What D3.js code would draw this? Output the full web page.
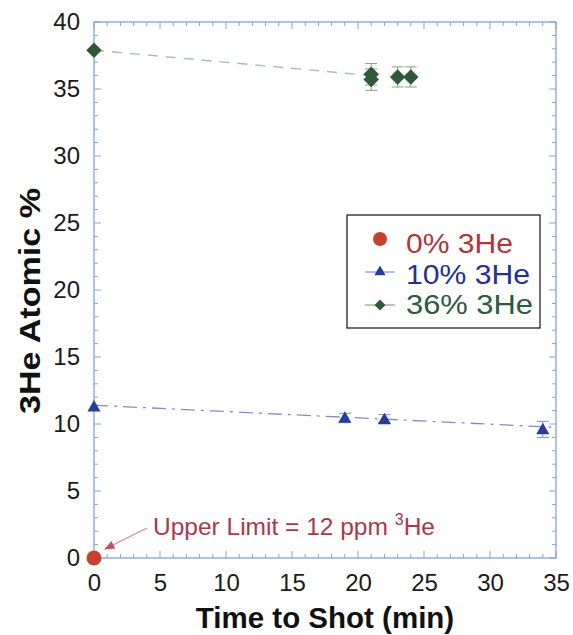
<!DOCTYPE html>
<html><head><meta charset="utf-8">
<script src="https://cdnjs.cloudflare.com/ajax/libs/d3/7.8.5/d3.min.js"></script>
<style>body{margin:0;background:#fff;}svg{display:block;font-family:"Liberation Sans",Arial,sans-serif;}</style>
</head><body>
<script>
const xTicks = [0,5,10,15,20,25,30,35];
const yTicks = [0,5,10,15,20,25,30,35,40];
const series0 = [{t:0, v:0}];
const series10 = [{t:0,v:11.3,e:0},{t:19,v:10.45,e:0.35},{t:22,v:10.35,e:0.35},{t:34,v:9.6,e:0.6}];
const series36 = [{t:0,v:37.9,e:0},{t:21,v:35.7,e:0.8},{t:21,v:36.1,e:0.8},{t:23,v:35.9,e:0.75},{t:24,v:35.9,e:0.75}];
const fit10 = [{t:0,v:11.4},{t:35,v:9.75}];
const fit36 = [{t:0,v:37.9},{t:21,v:36.0}];
const legendLabels = ["0% 3He","10% 3He","36% 3He"];

const W=573,H=635;
const L=94,R=556,T=22,B=558;
const svg=d3.select("body").append("svg").attr("width",W).attr("height",H);
const x=d3.scaleLinear().domain([0,35]).range([L,R]);
const y=d3.scaleLinear().domain([0,40]).range([B,T]);
const axisCol="#86a2d8";
const red="#c8412f", blue="#283c9c", green="#2f5a3a";

svg.append("rect").attr("x",L).attr("y",T).attr("width",R-L).attr("height",B-T)
  .attr("fill","none").attr("stroke",axisCol).attr("stroke-width",1.3);

const minorX=d3.range(0,36,1), minorY=d3.range(0,41,1);
const tg=svg.append("g").attr("stroke",axisCol).attr("stroke-width",1);
minorX.forEach(v=>{const len=v%5===0?7:4;
  tg.append("line").attr("x1",x(v)).attr("x2",x(v)).attr("y1",B).attr("y2",B-len);
  tg.append("line").attr("x1",x(v)).attr("x2",x(v)).attr("y1",T).attr("y2",T+len);});
minorY.forEach(v=>{const len=v%5===0?7:4;
  tg.append("line").attr("y1",y(v)).attr("y2",y(v)).attr("x1",L).attr("x2",L+len);
  tg.append("line").attr("y1",y(v)).attr("y2",y(v)).attr("x1",R).attr("x2",R-len);});

const xa=svg.append("g").attr("transform",`translate(0,${B})`)
  .call(d3.axisBottom(x).tickValues(xTicks).tickSize(0).tickPadding(16).tickFormat(d3.format("d")));
xa.select(".domain").remove();
xa.selectAll("text").attr("font-size",24).attr("fill","#1a1a1a").attr("font-family","Liberation Sans, Arial, sans-serif");
const ya=svg.append("g").attr("transform",`translate(${L},0)`)
  .call(d3.axisLeft(y).tickValues(yTicks).tickSize(0).tickPadding(14).tickFormat(d3.format("d")));
ya.select(".domain").remove();
ya.selectAll("text").attr("font-size",24).attr("fill","#1a1a1a").attr("font-family","Liberation Sans, Arial, sans-serif");

svg.append("text").attr("x",325).attr("y",628).attr("text-anchor","middle")
  .attr("font-size",29.5).attr("font-weight","bold").attr("fill","#111").text("Time to Shot (min)");
svg.append("text").attr("transform",`translate(40,301) rotate(-90)`).attr("text-anchor","middle")
  .attr("font-size",30).attr("font-weight","bold").attr("fill","#111")
  .attr("textLength",226).attr("lengthAdjust","spacingAndGlyphs").text("3He Atomic %");

const line=d3.line().x(d=>x(d.t)).y(d=>y(d.v));
svg.append("path").datum(fit36).attr("d",line).attr("fill","none").attr("stroke","#9fbfbf")
  .attr("stroke-width",1.4).attr("stroke-dasharray","10,8");
svg.append("path").datum(fit10).attr("d",line).attr("fill","none").attr("stroke","#7d8fca")
  .attr("stroke-width",1.3).attr("stroke-dasharray","14,6,3,6");

function errs(data,col){
  const g=svg.append("g").attr("stroke",col).attr("stroke-width",1);
  data.filter(d=>d.e>0).forEach(d=>{
    g.append("line").attr("x1",x(d.t)).attr("x2",x(d.t)).attr("y1",y(d.v-d.e)).attr("y2",y(d.v+d.e));
    [d.v-d.e,d.v+d.e].forEach(v=>g.append("line").attr("x1",x(d.t)-6).attr("x2",x(d.t)+6).attr("y1",y(v)).attr("y2",y(v)));
  });
}
errs(series10,"#7d8fca");
errs(series36,"#8aa08f");

const sym10=d3.symbol().type(d3.symbolTriangle).size(75);
const sym36=d3.symbol().type(d3.symbolSquare).size(120);
svg.append("g").selectAll("path").data(series10).join("path")
  .attr("d",sym10).attr("transform",d=>`translate(${x(d.t)},${y(d.v)+1})`).attr("fill",blue);
svg.append("g").selectAll("path").data(series36).join("path")
  .attr("d",sym36).attr("transform",d=>`translate(${x(d.t)},${y(d.v)}) rotate(45)`).attr("fill",green);
svg.append("g").selectAll("circle").data(series0).join("circle")
  .attr("cx",d=>x(d.t)).attr("cy",d=>y(d.v)).attr("r",7.5).attr("fill",red);

const ann=svg.append("text").attr("x",153).attr("y",535).attr("font-size",24.5).attr("fill","#a8384a");
ann.append("tspan").text("Upper Limit = 12 ppm ");
ann.append("tspan").attr("font-size",16).attr("dy",-10).text("3");
ann.append("tspan").attr("dy",10).text("He");
svg.append("defs").append("marker").attr("id","ah").attr("viewBox","0 0 10 10").attr("refX",9).attr("refY",5)
  .attr("markerWidth",8).attr("markerHeight",8).attr("orient","auto")
  .append("path").attr("d","M0,1 L10,5 L0,9 Z").attr("fill","#c0506a");
svg.append("line").attr("x1",147).attr("y1",528).attr("x2",105).attr("y2",549)
  .attr("stroke","#d08aa0").attr("stroke-width",1.3).attr("marker-end","url(#ah)");

const lg=svg.append("g");
lg.append("rect").attr("x",347).attr("y",215).attr("width",193).attr("height",113)
  .attr("fill","#fff").attr("stroke","#222").attr("stroke-width",1.3);
const rows=[{tc:"#b1353c",y:239,by:253,w:107},{tc:"#27308f",y:272,by:284,w:124},{tc:"#2e5a40",y:305,by:314,w:127}];
rows.forEach((r,i)=>{
  if(i>0){lg.append("line").attr("x1",365).attr("x2",395).attr("y1",r.y).attr("y2",r.y)
    .attr("stroke",i===1?"#7d8fca":"#8aa08f").attr("stroke-width",1.2);}
  if(i===0) lg.append("circle").attr("cx",380).attr("cy",r.y).attr("r",7).attr("fill",red);
  if(i===1) lg.append("path").attr("d",d3.symbol().type(d3.symbolTriangle).size(55)).attr("transform",`translate(380,${r.y})`).attr("fill",blue);
  if(i===2) lg.append("path").attr("d",d3.symbol().type(d3.symbolSquare).size(60)).attr("transform",`translate(380,${r.y}) rotate(45)`).attr("fill",green);
  lg.append("text").attr("x",406).attr("y",r.by).attr("font-size",27).attr("fill",r.tc)
    .attr("textLength",r.w).attr("lengthAdjust","spacingAndGlyphs").text(legendLabels[i]);
});
</script>
</body></html>
